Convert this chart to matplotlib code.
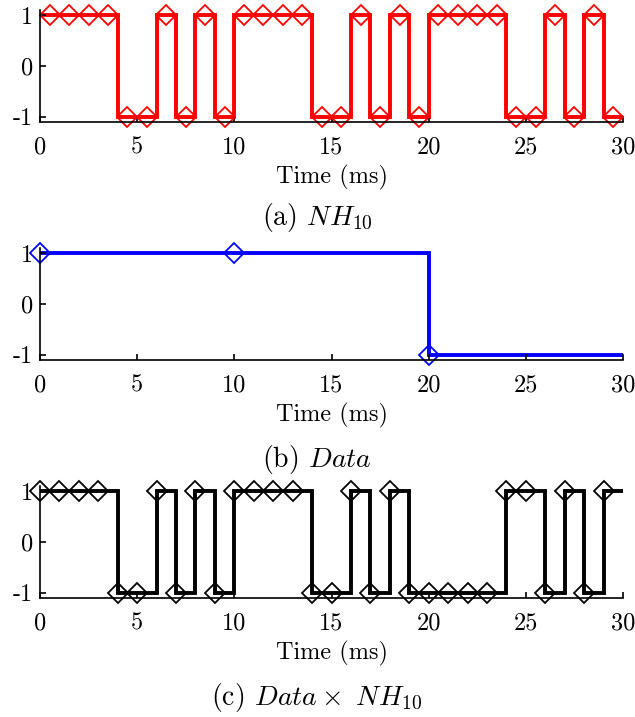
import numpy as np
import matplotlib
matplotlib.use('Agg')
import matplotlib.pyplot as plt

# chip values of the NH10 code over 30 ms (three periods)
nh_chips = [1, 1, 1, 1, -1, -1, 1, -1, 1, -1,
            1, 1, 1, 1, -1, -1, 1, -1, 1, -1,
            1, 1, 1, 1, -1, -1, 1, -1, 1, -1]
# data bits, 10 ms each
data_bits = [1, 1, -1]
# product of data and NH10
prod_chips = [1, 1, 1, 1, -1, -1, 1, -1, 1, -1,
              1, 1, 1, 1, -1, -1, 1, -1, 1, -1,
              -1, -1, -1, -1, 1, 1, -1, 1, -1, 1]

chip_edges = np.arange(0, 31, 1)
bit_edges = np.arange(0, 31, 10)

x_ticks = [0, 5, 10, 15, 20, 25, 30]
y_ticks = [-1, 0, 1]
y_ticklabels = ['-1', '0', '1']

plt.rcParams['font.family'] = 'cmr10'
plt.rcParams['mathtext.fontset'] = 'cm'
plt.rcParams['axes.unicode_minus'] = False

W, H = 635, 717
fig = plt.figure(figsize=(W / 100, H / 100), dpi=100)

def px_axes(top, bottom, left=40, right=623):
    return fig.add_axes([left / W, (H - bottom) / H, (right - left) / W, (bottom - top) / H])

def style(ax):
    ax.set_xlim(0, 30)
    ax.set_ylim(-1.1, 1.1)
    ax.spines['top'].set_visible(False)
    ax.spines['right'].set_visible(False)
    for s in ['left', 'bottom']:
        ax.spines[s].set_linewidth(1.2)
    ax.set_xticks(x_ticks)
    ax.set_yticks(y_ticks)
    ax.set_yticklabels(y_ticklabels)
    ax.tick_params(direction='in', length=4, width=1.2, labelsize=17.5)
    ax.tick_params(axis='x', pad=10)
    ax.tick_params(axis='y', pad=5)
    ax.set_xlabel('Time (ms)', fontsize=17.5, labelpad=5)

mk = dict(marker='D', markersize=10, markerfacecolor='none', markeredgewidth=1.3, linestyle='none', clip_on=False)

# (a) NH10
ax1 = px_axes(10, 122)
ax1.stairs(nh_chips, chip_edges, baseline=None, color='red', linewidth=2.8)
ax1.plot(chip_edges[:-1] + 0.5, nh_chips, color='red', **mk)
style(ax1)

# (b) Data
ax2 = px_axes(248, 360)
ax2.stairs(data_bits, bit_edges, baseline=None, color='blue', linewidth=2.8)
ax2.plot(bit_edges[:-1], data_bits, color='blue', **mk)
style(ax2)

# (c) Data x NH10
ax3 = px_axes(486, 598)
ax3.stairs(prod_chips, chip_edges, baseline=None, color='black', linewidth=2.8)
ax3.plot(chip_edges[:-1], prod_chips, color='black', **mk)
style(ax3)

fig.text(317 / W, 1 - 218 / H, r'(a) $NH_{10}$', ha='center', va='center', fontsize=20)
fig.text(317 / W, 1 - 460 / H, r'(b) $Data$', ha='center', va='center', fontsize=20)
fig.text(317 / W, 1 - 697 / H, r'(c) $Data\times\ NH_{10}$', ha='center', va='center', fontsize=20)

fig.savefig('out.png', dpi=100)
plt.close(fig)
